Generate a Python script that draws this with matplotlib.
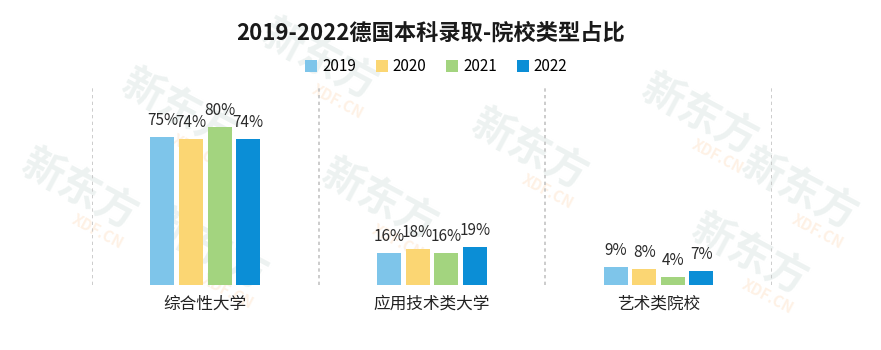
import matplotlib
matplotlib.use("Agg")
from matplotlib import pyplot as plt
import numpy as np

plt.rcParams['font.family'] = ['Noto Sans CJK SC', 'DejaVu Sans']

title = "2019-2022德国本科录取-院校类型占比"
categories = ["综合性大学", "应用技术类大学", "艺术类院校"]
years = ["2019", "2020", "2021", "2022"]
values = [
    [75, 16, 9],   # 2019
    [74, 18, 8],   # 2020
    [80, 16, 4],   # 2021
    [74, 19, 7],   # 2022
]
colors = ["#7ec5ea", "#fbd673", "#a3d47f", "#0b8ed6"]

# background watermark spots (pixel centres, y from top)
wm_spots = [(180, 110), (320, 60), (380, 200), (210, 250), (530, 150),
            (700, 115), (750, 255), (80, 190), (800, 190)]

W, H = 881, 350
fig = plt.figure(figsize=(W / 100, H / 100), dpi=100)

for px, py in wm_spots:
    fig.text(px / W, 1 - py / H, "新东方", rotation=-28, ha="center",
             va="center", fontsize=30, fontweight="bold", color="#edf2f1",
             rotation_mode="anchor", zorder=-5)
    fig.text((px + 18) / W, 1 - (py + 42) / H, "XDF.CN", rotation=-28,
             ha="center", va="center", fontsize=11, fontweight="bold",
             color="#fef1e5", rotation_mode="anchor", zorder=-5)

ax = fig.add_axes([0.1044, 0.186, 0.7718, 0.565])
ax.patch.set_alpha(0)

centers = np.arange(len(categories)) + 0.5
width = 0.106
step = 0.126

for i, (yr, vals) in enumerate(zip(years, values)):
    xs = centers + (i - 1.5) * step
    ax.bar(xs, vals, width=width, color=colors[i], label=yr, zorder=2)
    for x, v in zip(xs, vals):
        ax.text(x, v + 4, f"{v}%", ha="center", va="bottom",
                fontsize=11, color="#2a2a2a", zorder=3)

# dashed separators
for x in range(len(categories) + 1):
    ax.axvline(x, color="#c4c4c4", linestyle=(0, (2, 2)), linewidth=1.2,
               zorder=1)

ax.set_xlim(0, 3)
ax.set_ylim(0, 100)
ax.set_xticks(centers)
ax.set_xticklabels(categories, fontsize=12, color="#222222")
ax.tick_params(axis="x", length=0, pad=8)
ax.set_yticks([])
for s in ax.spines.values():
    s.set_visible(False)

fig.text(0.489, 0.905, title, ha="center", va="center", fontsize=16,
         fontweight="bold", color="#1a1a1a")
fig.legend(loc="center", bbox_to_anchor=(0.495, 0.81), ncol=4, frameon=False,
           fontsize=11, handlelength=0.8, handleheight=0.8,
           handletextpad=0.3, columnspacing=1.3)

fig.savefig("out.png", dpi=100)
